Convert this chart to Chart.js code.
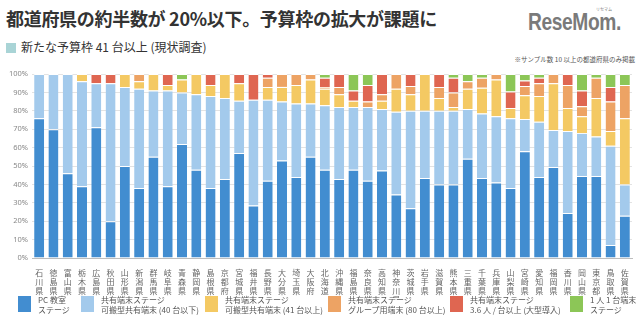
<!DOCTYPE html>
<html>
<head>
<meta charset="utf-8">
<script src="https://cdn.jsdelivr.net/npm/chart.js@4.4.0/dist/chart.umd.min.js"></script>
<style>
  body { margin: 0; width: 640px; height: 321px; background: #fff; position: relative; overflow: hidden;
         font-family: "Noto Sans CJK JP", "Noto Sans", sans-serif; }
  #title { position: absolute; left: 6px; top: 5px; font-size: 18px; font-weight: bold; color: #333; letter-spacing: -0.3px; }
  #logo { position: absolute; left: 528px; top: 8px; color: #7a7a7a; }
  #logo .big { font-family: "Liberation Sans", sans-serif; font-weight: bold; font-size: 24px;
               display: inline-block; transform: scaleX(0.8); transform-origin: left; letter-spacing: -0.5px; }
  #logo .kana { position: absolute; left: 68px; top: -2px; font-size: 4px; }
  #sub { position: absolute; left: 6px; top: 38px; font-size: 12px; color: #333; }
  #sub i { display: inline-block; width: 10px; height: 10px; background: #a9d4d6; margin-right: 5px; vertical-align: -1px; }
  #note { position: absolute; right: 5px; top: 54px; font-size: 6.5px; color: #555; }
  #wrap { position: absolute; left: 0; top: 62px; width: 640px; height: 236px; }
  #legend { position: absolute; top: 295px; left: 0; width: 640px; height: 24px; }
  .lg { position: absolute; top: 0; font-size: 8px; line-height: 9.5px; color: #555; }
  .lg i { position: absolute; left: 0; top: 1px; width: 13px; height: 16px; }
  .lg span { position: absolute; white-space: nowrap; }
</style>
</head>
<body>
<div id="title">都道府県の約半数が 20%以下。予算枠の拡大が課題に</div>
<div id="logo"><span class="big">ReseMom.</span><span class="kana">リセマム</span></div>
<div id="sub"><i></i>新たな予算枠 41 台以上 (現状調査)</div>
<div id="note">※サンプル数 10 以上の都道府県のみ掲載</div>
<div id="wrap"><canvas id="chart" width="640" height="236"></canvas></div>
<div id="legend"></div>
<script>
const prefectures = ['石川県', '徳島県', '富山県', '栃木県', '広島県', '秋田県', '山形県', '新潟県', '群馬県', '岐阜県',
    '青森県', '静岡県', '島根県', '京都府', '宮城県', '福井県', '長野県', '大分県', '埼玉県', '大阪府',
    '北海道', '沖縄県', '福島県', '奈良県', '高知県', '神奈川県', '茨城県', '岩手県', '滋賀県', '熊本県',
    '三重県', '千葉県', '兵庫県', '山梨県', '宮崎県', '愛知県', '福岡県', '香川県', '岡山県', '東京都',
    '鳥取県', '佐賀県'];

// values in % per prefecture (same order as above)
const pcRoom = [76, 70, 46, 39, 71, 20, 50, 38, 55, 39, 62, 48, 38, 43, 57, 28.5, 42, 53, 44, 55,
    48, 43, 48, 42, 47.5, 34.5, 27, 43.5, 40, 40, 54, 43.5, 41, 38, 58, 44, 49.5, 24.5, 44.5, 44.5, 7, 23];
const shared40 = [24, 30, 54, 57, 24, 75, 43, 54, 36, 52, 28, 41, 50, 44, 28.5, 57.5, 44, 32, 40, 29,
    35, 39, 34, 40, 33.5, 45, 53, 36.5, 40, 40, 27, 35, 36, 38, 17.5, 30, 20, 44.5, 23.5, 21.5, 54, 17];
const shared41 = [0, 0, 0, 4, 0, 0, 7, 4, 9, 3, 7, 11, 6, 13, 9.5, 0, 7, 8, 10, 13,
    9, 7, 3.5, 0, 4.5, 12.5, 9, 20, 7, 2, 11, 14, 20, 5.5, 13, 14, 25.5, 12.5, 9, 21, 8, 36];
const group80 = [0, 0, 0, 0, 0, 0, 0, 4, 0, 0, 0, 0, 0, 0, 0, 0, 5, 7, 6, 3,
    1, 4, 0, 3, 3.5, 8, 4.5, 0, 6, 8, 4, 5.5, 3, 0, 5, 7, 5, 12.5, 5.5, 11, 16, 18];
const large36 = [0, 0, 0, 0, 5, 5, 0, 0, 0, 6, 0, 0, 6, 0, 5, 14, 2, 0, 0, 0,
    5, 7, 5.5, 9, 11, 0, 6.5, 0, 7, 8, 0, 0, 0, 9, 3, 3, 0, 6, 8.5, 0, 8, 0];
const onePerOne = [0, 0, 0, 0, 0, 0, 0, 0, 0, 0, 3, 0, 0, 0, 0, 0, 0, 0, 0, 0,
    2, 0, 9, 6, 0, 0, 0, 0, 0, 2, 4, 2, 0, 9.5, 3.5, 2, 0, 0, 9, 2, 7, 6];

const yTicks = [0, 10, 20, 30, 40, 50, 60, 70, 80, 90, 100];

const seriesNames = [
    ['PC 教室', 'ステージ'],
    ['共有端末ステージ', '可搬型共有端末 (40 台以下)'],
    ['共有端末ステージ', '可搬型共有端末 (41 台以上)'],
    ['共有端末ステージ', 'グループ用端末 (80 台以上)'],
    ['共有端末ステージ', '3.6 人 / 台以上 (大型導入)'],
    ['1 人 1 台端末', 'ステージ']
];
const seriesValues = [pcRoom, shared40, shared41, group80, large36, onePerOne];
const colors = ['#428dd0', '#a3caec', '#f4c963', '#eda364', '#df6651', '#8cc657'];

const datasets = seriesValues.map((vals, i) => ({
    label: seriesNames[i].join(' '),
    data: vals,
    backgroundColor: colors[i],
    borderColor: '#ffffff',
    borderWidth: { top: 1, left: 0, right: 0, bottom: 0 },
    borderSkipped: false,
    categoryPercentage: 1.0,
    barPercentage: 0.7
}));

new Chart(document.getElementById('chart'), {
    type: 'bar',
    data: {
        labels: prefectures.map(p => p.split('')),
        datasets: datasets
    },
    options: {
        responsive: false,
        animation: false,
        devicePixelRatio: 1,
        layout: { padding: { top: 12, right: 8, left: 4, bottom: 0 } },
        plugins: { legend: { display: false }, tooltip: { enabled: false } },
        scales: {
            x: {
                stacked: true,
                grid: { display: false },
                border: { display: true, color: '#bdbdbd' },
                ticks: {
                    autoSkip: false, maxRotation: 0, minRotation: 0, padding: 3,
                    color: '#666', font: { size: 8, family: 'Noto Sans CJK JP', lineHeight: 1.1 }
                },
                afterFit: scale => { scale.height = 40; }
            },
            y: {
                stacked: true,
                min: 0, max: 100,
                afterBuildTicks: scale => { scale.ticks = yTicks.map(v => ({ value: v })); },
                grid: { color: '#e3e3e3', drawTicks: false },
                border: { display: false },
                ticks: {
                    padding: 4, color: '#888',
                    font: { size: 7.5, family: 'Noto Sans' },
                    callback: v => v + '%'
                },
                afterFit: scale => { scale.width = 28; }
            }
        }
    }
});

// html legend built from the same series
const legendX = [18, 81, 205, 328, 450, 570];
const legend = document.getElementById('legend');
seriesNames.forEach((name, i) => {
    const d = document.createElement('div');
    d.className = 'lg';
    d.style.left = legendX[i] + 'px';
    d.innerHTML = '<i style="background:' + colors[i] + '"></i><span style="left:20px">' +
        name[0] + '<br>' + name[1] + '</span>';
    legend.appendChild(d);
});
</script>
</body>
</html>
